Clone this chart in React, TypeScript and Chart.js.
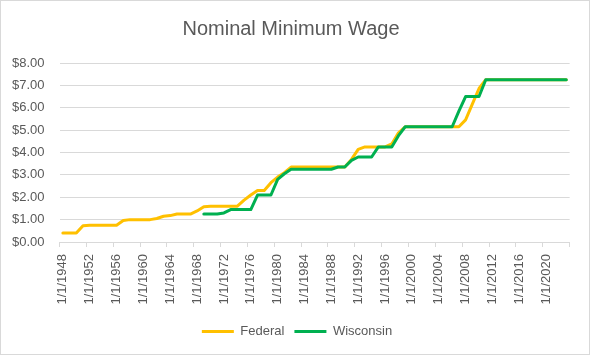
import React, { useEffect, useRef } from "react";
import { Chart, registerables } from "chart.js";

Chart.register(...registerables);

const years: string[] = [];
for (let y = 1948; y <= 2023; y++) years.push(`1/1/${y}`);

const federal: (number | null)[] = [
  0.40, 0.40, 0.40, 0.73, 0.75, 0.75, 0.75, 0.75, 0.75, 0.96, // 1948-1957
  1.00, 1.00, 1.00, 1.00, 1.05, 1.15, 1.18, 1.25, 1.25, 1.25, // 1958-1967
  1.39, 1.58, 1.60, 1.60, 1.60, 1.60, 1.60, 1.87, 2.10, 2.30, // 1968-1977
  2.30, 2.65, 2.90, 3.10, 3.35, 3.35, 3.35, 3.35, 3.35, 3.35, // 1978-1987
  3.35, 3.35, 3.35, 3.69, 4.14, 4.25, 4.25, 4.25, 4.25, 4.38, // 1988-1997
  4.88, 5.15, 5.15, 5.15, 5.15, 5.15, 5.15, 5.15, 5.15, 5.15, // 1998-2007
  5.46, 6.16, 6.86, 7.25, 7.25, 7.25, 7.25, 7.25, 7.25, 7.25, // 2008-2017
  7.25, 7.25, 7.25, 7.25, 7.25, 7.25,                         // 2018-2023
];

const wisconsin: (number | null)[] = [
  null, null, null, null, null, null, null, null, null, null, // 1948-1957
  null, null, null, null, null, null, null, null, null, null, // 1958-1967
  null, 1.25, 1.25, 1.25, 1.30, 1.45, 1.45, 1.45, 1.45, 2.10, // 1968-1977
  2.10, 2.10, 2.80, 3.05, 3.25, 3.25, 3.25, 3.25, 3.25, 3.25, // 1978-1987
  3.25, 3.35, 3.35, 3.65, 3.80, 3.80, 3.80, 4.25, 4.25, 4.25, // 1988-1997
  4.75, 5.15, 5.15, 5.15, 5.15, 5.15, 5.15, 5.15, 5.15, 5.85, // 1998-2007
  6.50, 6.50, 6.50, 7.25, 7.25, 7.25, 7.25, 7.25, 7.25, 7.25, // 2008-2017
  7.25, 7.25, 7.25, 7.25, 7.25, 7.25,                         // 2018-2023
];

const yTicks = [0, 1, 2, 3, 4, 5, 6, 7, 8];

const TEXT = "#595959";
const GRID = "#d9d9d9";
const FONT = "'Liberation Sans', Arial, sans-serif";

const legendShift = {
  id: "legendShift",
  afterLayout(chart: any) {
    if (chart.legend) {
      chart.legend.left += 6;
      chart.legend.right += 6;
    }
  },
};

export default function App() {
  const ref = useRef<HTMLCanvasElement | null>(null);

  useEffect(() => {
    document.body.style.margin = "0";
    const canvas = ref.current;
    if (!canvas) return;
    const chart = new Chart(canvas, {
      type: "line",
      data: {
        labels: years,
        datasets: [
          {
            label: "Federal",
            data: federal,
            borderColor: "#FFC000",
            backgroundColor: "#FFC000",
            borderWidth: 3,
            pointRadius: 0,
            tension: 0,
            borderJoinStyle: "round",
            borderCapStyle: "round",
            order: 1,
          },
          {
            label: "Wisconsin",
            data: wisconsin,
            borderColor: "#00B050",
            backgroundColor: "#00B050",
            borderWidth: 3,
            pointRadius: 0,
            tension: 0,
            borderJoinStyle: "round",
            borderCapStyle: "round",
            order: 0,
          },
        ],
      },
      plugins: [legendShift],
      options: {
        responsive: false,
        animation: false,
        devicePixelRatio: 1,
        layout: { padding: { left: 10, right: 18, top: 0, bottom: 6 } },
        plugins: {
          title: {
            display: true,
            text: "Nominal Minimum Wage",
            color: TEXT,
            font: { family: FONT, size: 20, weight: "normal" },
            padding: { top: 16, bottom: 22 },
          },
          legend: {
            position: "bottom",
            labels: {
              color: TEXT,
              font: { family: FONT, size: 13 },
              boxWidth: 32,
              boxHeight: 3,
              padding: 10,
              sort: (a: any, b: any) => a.datasetIndex - b.datasetIndex,
              generateLabels: (chart: any) => {
                const items = Chart.defaults.plugins.legend.labels.generateLabels(chart);
                return items.map((it: any) => ({ ...it, lineWidth: 0, strokeStyle: "transparent" }));
              },
            },
          },
          tooltip: { enabled: false },
        },
        scales: {
          x: {
            type: "category",
            offset: true,
            afterFit: (s: any) => {
              s.height = 73;
            },
            grid: {
              display: true,
              offset: true,
              drawOnChartArea: false,
              drawTicks: true,
              tickLength: 5,
              color: (ctx: any) =>
                ctx.index === undefined || ctx.index % 4 === 0 ? GRID : "rgba(0,0,0,0)",
              tickColor: (ctx: any) =>
                ctx.index === undefined || ctx.index % 4 === 0 ? GRID : "rgba(0,0,0,0)",
            },
            border: { display: true, color: GRID, width: 1 },
            ticks: {
              autoSkip: false,
              maxRotation: 90,
              minRotation: 90,
              padding: 7,
              color: TEXT,
              font: { family: FONT, size: 13 },
              callback: function (this: any, _v: any, i: number) {
                return i % 4 === 0 ? years[i] : "";
              },
            },
          },
          y: {
            min: 0,
            max: 8,
            afterBuildTicks: (axis: any) => {
              axis.ticks = yTicks.map((v) => ({ value: v }));
            },
            afterFit: (s: any) => {
              s.width = 48.5;
            },
            grid: { color: GRID, drawTicks: false, lineWidth: 1 },
            border: { display: false },
            ticks: {
              padding: 15,
              color: TEXT,
              font: { family: FONT, size: 13 },
              callback: (v: any) => "$" + Number(v).toFixed(2),
            },
          },
        },
      },
    });
    return () => chart.destroy();
  }, []);

  return (
    <div
      style={{
        position: "fixed",
        left: 0,
        top: 0,
        width: 590,
        height: 355,
        boxSizing: "border-box",
        border: "1px solid #d9d9d9",
        background: "#fff",
      }}
    >
      <canvas ref={ref} width={588} height={353} style={{ display: "block" }} />
    </div>
  );
}
